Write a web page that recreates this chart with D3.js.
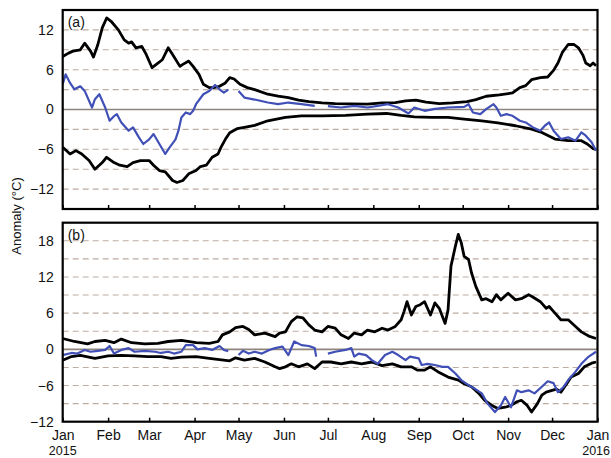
<!DOCTYPE html>
<html><head><meta charset="utf-8">
<script src="https://cdn.jsdelivr.net/npm/d3@7"></script>
<style>
body{margin:0;background:#fff}
svg{display:block}
text{font-family:"Liberation Sans",Arial,sans-serif;fill:#111}
</style>
</head><body>
<svg id="chart" width="611" height="458"></svg>
<script>
// ---------- data (day offset from 1 Jan 2015, anomaly °C); null = gap ----------
const monthLabels = ["Jan","Feb","Mar","Apr","May","Jun","Jul","Aug","Sep","Oct","Nov","Dec","Jan"];
const yearLabels = ["2015","2016"];
const panelLabels = ["(a)","(b)"];
const aTickValues = [-12,-6,0,6,12];
const bTickValues = [-12,-6,0,6,12,18];
const yAxisTitle = "Anomaly (°C)";

const aUpper = [[0,8.0],[4,8.5],[7,8.8],[12,9.0],[15,10.0],[19,8.8],[21,7.9],[24,9.8],[27,12.3],[30,13.8],[33,13.3],[38,12.0],[42,10.5],[45,10.0],[47,10.2],[50,9.3],[54,9.5],[57,8.3],[61,6.3],[65,7.0],[68,7.5],[72,9.3],[75,8.3],[80,6.5],[82,6.8],[86,7.3],[89,6.5],[93,5.3],[96,3.8],[100,3.3],[103,3.3],[107,3.5],[111,4.0],[114,4.8],[117,4.6],[121,3.8],[126,3.3],[131,3.0],[140,2.3],[147,2.0],[154,1.8],[161,1.4],[168,1.2],[177,1.0],[186,0.9],[197,0.85],[208,0.8],[218,1.0],[227,1.05],[234,1.3],[241,1.4],[248,1.1],[257,0.9],[266,1.0],[276,1.2],[282,1.5],[289,2.0],[298,2.2],[307,2.5],[312,3.3],[316,3.6],[320,4.5],[326,4.8],[331,4.9],[335,5.9],[338,7.0],[341,8.6],[345,9.8],[349,9.8],[352,9.3],[355,8.2],[357,7.0],[360,6.6],[362,7.0],[364,6.6]];
const aLower = [[0,-5.7],[3,-6.3],[5,-6.7],[9,-6.2],[13,-6.7],[18,-7.7],[22,-9.0],[27,-8.0],[30,-7.2],[35,-8.0],[39,-8.4],[44,-8.6],[48,-8.0],[53,-7.7],[59,-7.7],[62,-8.4],[66,-9.2],[70,-9.4],[75,-10.7],[78,-11.0],[82,-10.7],[86,-9.7],[91,-9.2],[94,-8.6],[98,-8.4],[102,-7.2],[106,-6.7],[108,-5.7],[111,-4.5],[114,-3.5],[119,-2.9],[124,-2.7],[131,-2.4],[140,-1.7],[152,-1.2],[163,-0.95],[177,-0.95],[193,-0.9],[208,-0.7],[221,-0.6],[231,-0.9],[240,-1.1],[252,-1.2],[263,-1.2],[274,-1.45],[286,-1.7],[297,-2.0],[309,-2.45],[320,-2.95],[327,-3.45],[336,-4.45],[345,-4.7],[354,-4.7],[358,-5.2],[362,-5.9],[364,-6.0]];
const aBlue = [[0,3.8],[2,5.3],[5,4.0],[8,3.05],[12,3.5],[15,2.8],[20,0.3],[22,1.55],[25,2.3],[29,0.3],[32,-1.7],[35,-1.0],[37,-0.7],[40,-1.95],[45,-3.2],[48,-2.7],[52,-4.2],[55,-5.2],[59,-4.5],[62,-3.7],[66,-5.2],[70,-6.7],[73,-5.7],[77,-4.5],[79,-3.2],[81,-1.2],[84,-0.45],[87,-0.7],[89,-0.2],[91,0.8],[96,2.3],[100,2.8],[104,3.7],[107,3.05],[110,2.55],[113,3.0],[116,null],[120,2.8],[124,1.8],[131,1.5],[140,1.05],[147,0.8],[154,1.05],[163,0.8],[172,0.55],[173,null],[181,0.5],[190,0.3],[199,0.55],[208,0.3],[215,0.55],[222,0.8],[229,0.3],[236,-0.6],[240,0.3],[247,-0.2],[254,0.1],[263,0.3],[274,0.4],[277,0.8],[280,-0.45],[285,-0.7],[289,0.05],[294,0.8],[296,0.3],[299,-0.95],[303,-0.7],[307,-0.95],[312,-1.7],[316,-1.95],[321,-2.7],[326,-3.2],[329,-2.45],[332,-1.95],[335,-3.2],[340,-4.45],[345,-4.2],[350,-4.7],[354,-3.45],[357,-3.95],[361,-4.95],[364,-6.2]];

const bUpper = [[0,1.8],[8,1.3],[17,0.9],[22,1.3],[29,1.5],[35,1.1],[40,1.7],[47,1.1],[56,0.9],[65,1.0],[72,1.3],[81,1.5],[91,1.1],[100,1.0],[106,1.3],[109,2.4],[114,2.9],[118,3.6],[123,3.8],[127,3.3],[131,2.4],[138,2.7],[145,2.1],[148,2.7],[152,2.9],[156,4.6],[160,5.4],[164,5.2],[168,4.05],[172,3.2],[177,2.9],[181,3.8],[186,3.5],[190,2.4],[195,1.8],[199,2.7],[204,2.4],[208,3.2],[213,2.9],[218,3.5],[222,3.2],[227,3.8],[231,4.9],[233,6.3],[235,7.9],[238,5.7],[241,7.1],[244,7.4],[247,7.9],[251,5.7],[254,7.7],[257,6.8],[261,4.3],[263,6.55],[265,13.8],[268,17.1],[270,19.05],[272,17.7],[274,15.4],[277,14.9],[279,12.7],[282,10.4],[286,8.2],[289,8.4],[293,7.9],[296,9.05],[299,8.2],[304,9.3],[309,8.2],[313,8.4],[318,9.05],[320,8.8],[326,7.9],[330,6.8],[332,7.1],[336,6.0],[340,4.9],[345,4.9],[350,3.8],[354,2.9],[359,2.2],[364,1.8]];
const bLower = [[0,-1.8],[6,-1.2],[12,-1.0],[22,-1.5],[31,-1.1],[40,-1.0],[49,-1.1],[58,-1.2],[67,-1.2],[74,-1.5],[81,-1.3],[91,-1.2],[100,-1.5],[107,-1.7],[114,-1.9],[118,-1.4],[124,-1.8],[131,-1.5],[138,-2.1],[145,-2.9],[148,-3.2],[152,-2.9],[156,-2.4],[161,-2.9],[167,-2.4],[172,-3.2],[177,-2.1],[183,-2.1],[190,-2.4],[197,-2.1],[204,-2.4],[211,-2.1],[218,-2.7],[225,-2.4],[231,-2.9],[238,-2.9],[242,-3.45],[247,-3.45],[251,-2.9],[256,-3.7],[263,-4.6],[270,-5.1],[274,-5.7],[279,-6.2],[284,-7.3],[288,-8.45],[293,-9.3],[297,-9.8],[302,-9.6],[306,-9.3],[310,-8.7],[313,-8.45],[317,-9.3],[320,-10.4],[324,-9.0],[327,-7.6],[330,-7.1],[334,-6.8],[337,-6.6],[340,-7.1],[344,-5.7],[347,-4.6],[352,-4.0],[356,-2.9],[361,-2.3],[364,-2.1]];
const bBlue = [[0,-0.95],[6,-0.6],[10,-0.7],[15,-0.1],[19,-0.4],[24,-0.25],[29,-0.1],[32,0.55],[35,-0.7],[40,-0.1],[45,0.2],[49,-0.4],[56,-0.25],[63,-0.4],[67,-0.6],[72,-0.4],[76,-0.7],[81,-0.4],[84,0.7],[89,0.7],[92,0.0],[97,0.2],[102,-0.1],[107,0.55],[110,-0.1],[113,-0.3],[114,null],[120,-0.95],[123,-0.25],[127,-0.7],[131,-0.4],[136,-0.7],[141,-0.1],[145,0.2],[150,0.45],[154,-0.95],[158,1.3],[163,0.7],[168,0.55],[172,0.2],[173,-1.2],[174,null],[181,-0.7],[186,-0.4],[193,-0.1],[197,0.2],[199,-1.2],[202,-0.7],[207,-0.95],[211,-1.8],[215,-2.4],[220,-0.95],[225,-0.4],[229,-0.95],[234,-1.8],[237,-1.2],[243,-1.5],[245,-2.6],[249,-2.4],[254,-2.6],[259,-2.9],[263,-2.9],[268,-4.0],[272,-5.1],[277,-5.95],[281,-6.5],[286,-7.3],[290,-9.0],[295,-10.4],[299,-9.3],[302,-7.9],[306,-9.6],[310,-6.8],[313,-7.1],[318,-6.8],[322,-7.3],[327,-6.2],[331,-5.3],[335,-5.6],[338,-7.1],[342,-6.2],[345,-5.1],[350,-3.7],[354,-2.4],[359,-1.2],[364,-0.4]];

// ---------- layout ----------
const svg = d3.select("#chart");
const left = 62.7, right = 597.5;
const t0 = Date.UTC(2015,0,1);
const toDate = d => new Date(t0 + d*864e5);
const x = d3.scaleUtc().domain([new Date(t0), new Date(Date.UTC(2016,0,1))]).range([left, right]);
const monthDates = d3.range(13).map(m => new Date(Date.UTC(2015, m, 1)));
const FONT = '"Liberation Sans",Arial,sans-serif';

const panels = [
  {label: panelLabels[0], top: 10, bottom: 209, domain: [-15,15], ticks: aTickValues, series: [aUpper, aLower], blue: aBlue, showMonths: false},
  {label: panelLabels[1], top: 222.7, bottom: 421.7, domain: [-12,21], ticks: bTickValues, series: [bUpper, bLower], blue: bBlue, showMonths: true}
];

panels.forEach(p => {
  const y = d3.scaleLinear().domain(p.domain).range([p.bottom, p.top]);
  const g = svg.append("g");
  const clipId = "clip" + p.label.replace(/\W/g,"");
  svg.append("clipPath").attr("id", clipId).append("rect")
    .attr("x", left).attr("y", p.top).attr("width", right-left).attr("height", p.bottom-p.top);

  const grid = d3.range(p.domain[0]+3, p.domain[1], 3).filter(v => v !== 0);
  g.selectAll(".grid").data(grid).join("line")
    .attr("x1", left).attr("x2", right)
    .attr("y1", d => y(d)).attr("y2", d => y(d))
    .attr("stroke", "#bcaca2").attr("stroke-width", 1.1).attr("stroke-dasharray", "6,4");
  g.append("line").attr("x1", left).attr("x2", right).attr("y1", y(0)).attr("y2", y(0))
    .attr("stroke", "#8e847e").attr("stroke-width", 1.6);

  const line = d3.line().defined(d => d[1] !== null).x(d => x(toDate(d[0]))).y(d => y(d[1]));
  const lg = g.append("g").attr("clip-path", `url(#${clipId})`);
  p.series.forEach(s => {
    lg.append("path").datum(s).attr("d", line).attr("fill", "none")
      .attr("stroke", "#000").attr("stroke-width", 2.8).attr("stroke-linejoin", "round");
  });
  lg.append("path").datum(p.blue).attr("d", line).attr("fill", "none")
    .attr("stroke", "#4150b6").attr("stroke-width", 2.2).attr("stroke-linejoin", "round");

  const ya = g.append("g").attr("transform", `translate(${left},0)`)
    .call(d3.axisLeft(y).tickValues(p.ticks).tickSize(0).tickPadding(9).tickFormat(d3.format("d")));
  ya.select(".domain").remove();
  ya.selectAll("text").attr("font-size", 14).style("font-family", FONT).attr("fill", "#111");

  const xa = g.append("g").attr("transform", `translate(0,${p.bottom})`)
    .call(d3.axisBottom(x).tickValues(monthDates).tickSize(-4).tickPadding(8)
      .tickFormat((d,i) => p.showMonths ? monthLabels[i] : ""));
  xa.select(".domain").remove();
  xa.selectAll("line").attr("stroke", "#000").attr("stroke-width", 1.5);
  xa.selectAll("text").attr("font-size", 14).style("font-family", FONT).attr("fill", "#111");

  g.append("rect").attr("x", left).attr("y", p.top).attr("width", right-left).attr("height", p.bottom-p.top)
    .attr("fill", "none").attr("stroke", "#000").attr("stroke-width", 2.2);

  g.append("text").attr("x", left+5).attr("y", p.top+17).attr("font-size", 14).text(p.label);
});

// year labels
svg.selectAll(".year").data(yearLabels).join("text")
  .attr("x", (d,i) => i === 0 ? x(monthDates[0]) : 610)
  .attr("y", 455)
  .attr("text-anchor", (d,i) => i === 0 ? "middle" : "end")
  .attr("font-size", 12.5).text(d => d);

svg.append("text").attr("transform", "translate(21,216) rotate(-90)")
  .attr("text-anchor", "middle").attr("font-size", 13).text(yAxisTitle);
</script>
</body></html>
